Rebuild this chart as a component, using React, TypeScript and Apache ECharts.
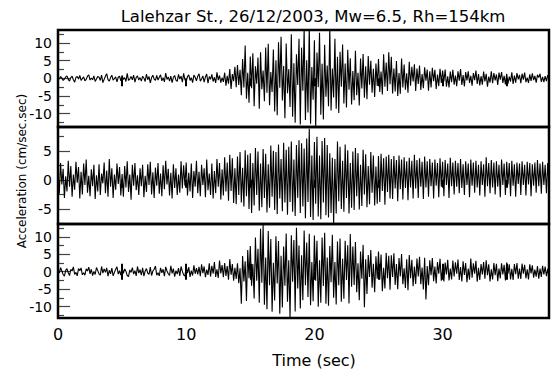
import React, { useEffect, useRef } from "react";
import * as echarts from "echarts";

const TITLE = "Lalehzar St., 26/12/2003, Mw=6.5, Rh=154km";
const Y_NAME = "Acceleration (cm/sec.sec)";
const X_NAME = "Time (sec)";
const DT = 0.1;
const X_MAX = 38.3;
const X_TICKS = [5, 10, 15, 20, 25, 30, 35];
const X_LABELS = [0, 10, 20, 30];

const Y_RANGES = [
  [-13.8, 13.7],
  [-7.6, 9.1],
  [-13.3, 13.7],
];
const Y_LABELS = [
  [-10, -5, 0, 5, 10],
  [-5, 0, 5],
  [-10, -5, 0, 5, 10],
];
const Y_MINOR = [
  [-12.5, -7.5, -2.5, 2.5, 7.5, 12.5],
  [-7.5, -2.5, 2.5, 7.5],
  [-12.5, -7.5, -2.5, 2.5, 7.5, 12.5],
];

const trace1 = [
  0.3, -0.2, 0.5, 0.1, -0.6, -0.2, 0.4, 0.7, -0.3, -0.8,
  0.2, 0.6, -0.4, -1.1, 0.3, 0.5, -0.2, 0.8, -0.6, -0.1,
  0.4, -0.7, -0.3, 0.6, 1.0, -0.5, 0.1, -0.4, 0.7, -0.9,
  -0.2, 0.5, 0.3, -0.6, 0.9, -1.2, -0.3, 0.6, 1.3, -0.4,
  -0.8, 0.2, 0.9, -0.5, -0.1, 0.4, -1.0, 0.3, 0.6, -0.7,
  0.8, -0.3, 0.2, -0.9, 1.4, -0.6, -0.2, 0.5, -0.4, 0.9,
  -1.1, 0.3, 0.7, -0.5, 0.2, -0.8, 0.6, 0.1, -0.9, 1.2,
  -0.4, 0.5, -1.3, 0.2, 0.9, -0.2, -0.6, 0.8, -0.5, 0.3,
  1.0, -0.7, 0.2, -1.0, 1.5, -0.3, 0.4, -0.8, 0.6, -1.2,
  0.3, 0.8, -0.5, -0.9, 1.1, -0.2, 0.6, -1.1, 1.4, -0.4,
  -0.9, 0.5, 1.0, -0.6, 0.2, -1.2, 0.9, 0.3, -0.7, 0.6,
  1.3, -0.8, -0.2, 0.7, -1.1, 0.4, 1.2, -1.4, 0.5, -0.3,
  1.1, -0.9, 0.3, -1.3, 1.7, -0.5, 0.8, -1.2, 0.2, -1.0,
  1.6, -2.1, 0.7, -1.5, 2.6, -3.0, 1.2, -0.8, 3.3, -2.5,
  3.8, -1.9, 2.4, -4.8, 5.5, -2.6, 9.3, -5.8, 1.6, -6.9,
  6.2, -2.8, 7.1, -7.9, 3.4, -1.5, 5.9, -8.6, 7.4, -3.1,
  2.2, -6.5, 8.7, -4.1, 9.8, -7.6, 1.8, -3.9, 8.2, -9.4,
  5.1, -10.5, 10.2, -2.7, 11.8, -6.3, 3.5, -11.3, 9.9, -4.2,
  2.6, -8.1, 12.5, -10.9, 4.3, -12.6, 6.8, -1.9, 11.2, -13.1,
  8.7, -3.5, 14.2, -11.8, 5.1, -9.7, 14.8, -12.9, 3.2, -6.1,
  10.8, -14.0, 7.3, -2.5, 12.9, -10.3, 4.1, -11.7, 9.5, -5.2,
  3.6, -7.9, 14.3, -9.1, 2.8, -5.4, 11.2, -8.6, 6.1, -9.8,
  7.5, -2.4, 9.6, -7.1, 4.2, -8.3, 8.1, -3.2, 5.7, -7.4,
  2.1, -6.2, 7.8, -4.8, 1.6, -7.7, 5.6, -2.9, 6.9, -5.5,
  3.4, -5.9, 6.3, -1.8, 5.0, -4.1, 2.7, -5.3, 4.2, -2.2,
  5.5, -3.9, 1.9, -4.6, 6.8, -2.4, 4.5, -3.6, 7.4, -1.7,
  6.1, -4.3, 2.8, -3.7, 4.9, -5.0, 1.5, -4.4, 5.6, -2.6,
  3.9, -3.2, 1.4, -4.1, 4.7, -2.1, 3.3, -0.9, 4.0, -3.6,
  2.8, -1.6, 3.6, -3.3, 1.2, -2.8, 3.1, -0.7, 2.5, -3.5,
  2.0, -2.6, 3.0, -0.8, 2.4, -3.0, 1.1, -2.2, 2.7, -1.3,
  2.2, -0.9, 2.5, -2.4, 0.6, -2.6, 1.9, -1.1, 2.4, -1.8,
  0.8, -2.2, 2.0, -0.7, 2.6, -1.9, 0.9, -2.3, 1.8, -0.6,
  2.0, -1.3, 0.7, -2.1, 1.5, -0.5, 2.2, -1.6, 1.2, -2.0,
  0.6, -1.8, 1.9, -0.9, 1.3, -2.4, 0.5, -1.2, 2.0, -1.4,
  1.5, -0.6, 1.1, -1.9, 1.6, -0.4, 1.8, -1.3, 0.7, -1.7,
  1.3, -1.5, 0.5, -0.9, 1.7, -1.6, 0.8, -1.2, 1.5, -0.3,
  1.0, -1.4, 1.3, -0.4, 1.6, -1.1, 0.2, -1.3, 1.1, -0.7,
  1.4, -0.5, 0.7, -1.2, 1.0, 0.2, 1.3, -1.0, 0.4, -1.1,
  0.6, -0.8, 0.9, -0.3,
];

const trace2 = [
  1.5, -2.4, 2.9, -0.8, 1.9, -3.1, 0.6, -2.0, 3.3, -1.2,
  2.4, -2.9, 0.9, -1.7, 3.1, -0.5, 2.2, -3.2, 1.4, -2.5,
  2.8, -0.9, 3.5, -2.2, 0.7, -2.8, 1.8, -1.1, 2.6, -3.3,
  0.8, -2.0, 2.7, -2.6, 1.1, -0.6, 3.0, -2.3, 1.6, -2.9,
  3.6, -1.2, 2.0, -3.1, 0.9, -1.7, 2.8, -0.7, 2.2, -2.7,
  1.0, -2.9, 2.4, -1.3, 3.2, -2.1, 0.9, -3.4, 2.6, -1.0,
  2.9, -1.8, 0.8, -2.6, 2.0, -1.1, 2.6, -3.0, 0.7, -2.1,
  2.7, -0.9, 3.1, -2.5, 1.3, -3.1, 2.1, -1.0, 2.9, -2.4,
  1.1, -2.8, 2.5, -1.6, 3.3, -0.8, 1.9, -2.7, 1.2, -3.2,
  2.7, -1.4, 2.0, -2.6, 0.9, -2.2, 3.2, -1.5, 2.5, -1.0,
  3.0, -2.7, 1.2, -2.0, 2.8, -3.1, 1.5, -1.2, 3.3, -2.3,
  1.4, -2.8, 2.6, -0.9, 2.0, -3.0, 3.5, -1.8, 1.1, -2.6,
  2.8, -3.2, 1.5, -2.3, 3.6, -1.2, 2.9, -3.4, 1.8, -2.7,
  3.9, -2.0, 3.0, -3.6, 4.3, -1.9, 3.7, -4.0, 2.0, -4.2,
  4.0, -2.6, 4.8, -3.9, 2.1, -4.6, 5.1, -2.8, 4.3, -5.0,
  4.6, -5.7, 2.9, -4.4, 5.5, -2.6, 4.9, -5.3, 2.8, -4.7,
  5.3, -3.1, 4.5, -5.6, 2.7, -4.8, 5.9, -2.9, 5.0, -5.2,
  4.8, -5.9, 6.1, -3.2, 3.6, -5.4, 6.4, -3.9, 5.2, -6.0,
  5.7, -3.8, 6.6, -5.5, 3.5, -6.2, 6.0, -3.1, 6.8, -5.7,
  6.3, -4.6, 5.4, -6.6, 7.1, -3.8, 8.8, -6.4, 4.2, -6.9,
  6.5, -4.1, 7.4, -6.3, 4.2, -6.8, 6.7, -3.9, 7.2, -6.1,
  6.0, -6.5, 4.6, -5.7, 3.8, -7.5, 3.6, -5.8, 6.6, -3.7,
  5.7, -5.0, 3.3, -5.5, 6.1, -3.1, 5.1, -5.8, 2.9, -4.8,
  4.9, -5.2, 5.5, -2.8, 4.6, -5.1, 2.6, -4.5, 5.2, -2.5,
  4.4, -4.7, 2.4, -4.2, 4.8, -2.2, 4.2, -4.4, 2.3, -4.1,
  4.1, -3.8, 4.5, -1.9, 3.7, -4.3, 4.0, -2.1, 4.3, -3.2,
  3.6, -3.3, 4.1, -1.5, 3.4, -3.7, 4.2, -1.6, 3.5, -3.4,
  3.9, -1.4, 3.2, -3.5, 3.8, -1.3, 3.3, -3.2, 4.3, -1.5,
  3.4, -3.1, 3.7, -1.2, 3.1, -3.3, 4.0, -1.3, 3.2, -2.9,
  3.6, -1.1, 3.0, -3.2, 3.5, -1.0, 2.9, -3.0, 3.7, -1.2,
  3.1, -2.8, 3.4, -0.9, 2.8, -3.1, 3.8, -1.1, 3.0, -2.5,
  3.3, -1.2, 2.9, -2.3, 3.6, -1.4, 2.7, -2.6, 3.2, -0.9,
  2.8, -3.0, 3.5, -1.0, 3.0, -2.2, 3.3, -1.3, 2.6, -2.7,
  3.2, -0.9, 2.7, -2.9, 3.9, -1.1, 2.9, -2.3, 3.4, -1.3,
  3.0, -2.5, 3.2, -1.2, 2.6, -3.0, 3.5, -0.9, 2.8, -2.6,
  3.1, -0.8, 2.9, -2.8, 3.3, -1.0, 2.7, -2.9, 3.0, -0.7,
  2.8, -2.6, 3.2, -0.9, 2.6, -2.7, 3.1, -0.8, 2.9, -2.8,
  2.7, -1.0, 3.0, -2.2, 3.4, -1.1, 2.8, -2.4, 3.1, -0.9,
  2.6, -2.3, 2.9, -1.0,
];

const trace3 = [
  0.6, -0.4, 1.2, 0.2, -0.8, -1.3, 0.4, 0.9, -0.3, -1.1,
  0.7, 0.2, 1.4, -0.8, -0.2, -1.2, 0.9, 0.3, 1.1, -0.9,
  -0.3, -1.0, 0.8, 0.2, 1.3, -0.6, 0.7, -1.1, 0.1, -0.8,
  1.2, 0.3, -0.6, -1.0, 1.5, -0.4, 0.8, -0.2, 1.1, -1.3,
  0.4, -0.6, 1.0, -1.2, -0.2, 0.7, 1.4, -0.7, 0.3, -1.0,
  1.3, -0.5, 0.8, 0.1, -1.1, -1.4, 0.5, -0.2, 1.2, -0.7,
  0.3, -1.2, 1.5, -0.4, 0.6, -1.0, 1.1, -1.3, 0.2, 0.9,
  -0.4, -0.8, 1.3, -1.1, 0.2, 0.7, 1.6, -1.0, -0.3, -1.2,
  1.1, -0.3, 0.7, -1.3, 1.4, 0.2, -0.6, -1.1, 1.7, -0.5,
  0.9, -1.4, 0.3, -0.7, 1.0, -1.2, 1.5, 0.1, -0.9, -1.3,
  1.6, -0.4, 1.3, -1.5, 0.3, -1.1, 1.8, -0.6, 1.0, -0.8,
  1.4, -1.3, 2.1, -0.4, 1.5, -1.6, 0.6, -0.9, 2.4, -1.4,
  1.7, -0.6, 2.8, -1.5, 0.7, -1.8, 3.2, -0.5, 1.9, -1.6,
  2.5, -1.2, 1.6, -2.3, 3.6, -0.9, 2.2, -2.6, 1.1, -2.1,
  2.4, -3.3, 1.0, -9.2, 4.5, -2.8, 3.0, -8.4, 6.2, -1.9,
  7.4, -4.0, 2.2, -7.7, 9.8, -2.6, 6.6, -8.9, 12.3, -3.2,
  13.4, -9.5, 4.1, -10.8, 11.7, -3.9, 9.4, -11.5, 2.6, -8.3,
  10.2, -3.4, 8.8, -12.1, 4.6, -10.3, 7.2, -4.0, 11.0, -8.6,
  3.3, -13.2, 10.5, -2.9, 9.1, -11.4, 12.6, -4.8, 7.5, -10.6,
  4.7, -8.2, 11.8, -3.9, 8.4, -7.3, 10.9, -9.6, 2.8, -8.5,
  10.4, -2.6, 8.9, -10.1, 3.3, -8.9, 9.8, -4.1, 11.2, -9.2,
  4.1, -9.8, 7.4, -3.0, 10.6, -7.5, 2.8, -9.4, 8.7, -3.9,
  9.5, -8.6, 3.7, -7.8, 8.9, -2.4, 7.6, -9.1, 10.8, -4.3,
  7.2, -3.8, 8.5, -5.9, 2.4, -8.2, 5.8, -2.0, 7.7, -10.2,
  3.6, -6.4, 4.8, -1.5, 6.2, -4.6, 2.3, -5.9, 4.4, -2.0,
  5.8, -2.2, 4.9, -5.6, 1.1, -4.8, 5.4, -1.9, 4.6, -5.2,
  4.7, -1.5, 5.3, -3.8, 2.2, -5.0, 3.9, -1.4, 5.1, -3.6,
  1.0, -4.7, 3.6, -5.3, 4.8, -1.9, 3.4, -4.2, 1.5, -3.5,
  3.8, -1.4, 4.3, -3.6, 1.2, -5.1, 4.0, -8.0, 1.6, -3.9,
  3.3, -1.0, 3.9, -2.7, 1.5, -3.4, 2.8, -0.6, 3.7, -2.6,
  1.0, -2.8, 2.6, -0.8, 3.4, -2.5, 0.9, -2.2, 3.2, -1.4,
  2.7, -0.6, 3.5, -2.4, 1.3, -2.8, 3.0, -0.9, 2.5, -3.0,
  0.9, -2.3, 3.8, -1.7, 2.4, -0.6, 3.1, -2.9, 1.1, -2.4,
  2.2, -0.8, 2.8, -2.0, 3.3, -1.0, 2.1, -2.8, 0.7, -2.2,
  2.5, -1.0, 2.3, -2.7, 0.9, -1.9, 2.4, -0.8, 2.0, -2.5,
  2.6, -0.6, 2.1, -2.2, 0.8, -2.4, 2.2, -0.7, 2.5, -2.0,
  0.9, -2.1, 2.3, -0.6, 2.0, -1.9, 0.7, -2.2, 2.1, -0.5,
  1.8, -1.7, 0.6, -1.4, 1.6, -2.0, 0.9, -1.5, 1.7, -0.8,
  1.5, -1.3, 0.8, -1.6,
];

const TRACES = [trace1, trace2, trace3];

const FONT = "DejaVu Sans";
const GRID_LEFT = 58;
const GRID_WIDTH = 491;
const GRID_TOPS = [30, 127, 224];
const GRID_HEIGHTS = [97, 97, 94];

function toPairs(arr: number[]) {
  return arr.map((v, i) => [Math.round(i * DT * 100) / 100, v]);
}

function buildOption() {
  const grid = GRID_TOPS.map((top, i) => ({
    left: GRID_LEFT,
    top,
    width: GRID_WIDTH,
    height: GRID_HEIGHTS[i],
    show: true,
    borderColor: "#000",
    borderWidth: 2.5,
    backgroundColor: "transparent",
    z: 10,
  }));

  const xAxis: any[] = GRID_TOPS.map((_, i) => ({
    gridIndex: i,
    type: "value",
    min: 0,
    max: X_MAX,
    position: "top",
    axisLine: { show: false },
    axisTick: {
      show: true,
      inside: true,
      length: 8,
      customValues: X_TICKS,
      lineStyle: { color: "#000", width: 2 },
    },
    axisLabel: { show: false },
    splitLine: { show: false },
  }));
  xAxis.push({
    gridIndex: 2,
    type: "value",
    min: 0,
    max: X_MAX,
    position: "bottom",
    axisLine: { show: false },
    axisTick: {
      show: true,
      inside: true,
      length: 8,
      customValues: X_TICKS,
      lineStyle: { color: "#000", width: 2 },
    },
    axisLabel: {
      show: true,
      customValues: X_LABELS,
      margin: 8,
      fontSize: 16,
      fontFamily: FONT,
      color: "#000",
    },
    splitLine: { show: false },
  });

  const yAxis: any[] = [];
  GRID_TOPS.forEach((_, i) => {
    const [min, max] = Y_RANGES[i];
    yAxis.push({
      gridIndex: i,
      type: "value",
      min,
      max,
      position: "left",
      axisLine: { show: false },
      axisTick: {
        show: true,
        inside: true,
        length: 12,
        customValues: Y_LABELS[i],
        lineStyle: { color: "#444", width: 1.2 },
      },
      axisLabel: {
        show: true,
        customValues: Y_LABELS[i],
        margin: 6,
        fontSize: 14,
        fontFamily: FONT,
        color: "#000",
      },
      splitLine: { show: false },
    });
    yAxis.push({
      gridIndex: i,
      type: "value",
      min,
      max,
      position: "left",
      axisLine: { show: false },
      axisTick: {
        show: true,
        inside: true,
        length: 6,
        customValues: Y_MINOR[i],
        lineStyle: { color: "#444", width: 1.2 },
      },
      axisLabel: { show: false },
      splitLine: { show: false },
    });
  });

  const series = TRACES.map((tr, i) => ({
    type: "line",
    xAxisIndex: i,
    yAxisIndex: i * 2,
    data: toPairs(tr),
    showSymbol: false,
    symbol: "none",
    clip: true,
    lineStyle: { color: "#000", width: 1.1 },
    z: 2,
  }));

  return {
    animation: false,
    backgroundColor: "#fff",
    grid,
    xAxis,
    yAxis,
    series,
    graphic: [
      {
        type: "text",
        x: 313,
        y: 16,
        style: {
          text: TITLE,
          align: "center",
          verticalAlign: "middle",
          fontSize: 16.5,
          fontFamily: FONT,
          fill: "#000",
        },
      },
      {
        type: "text",
        x: 22,
        y: 171,
        rotation: Math.PI / 2,
        style: {
          text: Y_NAME,
          align: "center",
          verticalAlign: "middle",
          fontSize: 12,
          fontFamily: FONT,
          fill: "#000",
        },
      },
      {
        type: "text",
        x: 314,
        y: 360,
        style: {
          text: X_NAME,
          align: "center",
          verticalAlign: "middle",
          fontSize: 16,
          fontFamily: FONT,
          fill: "#000",
        },
      },
    ],
  };
}

export default function App() {
  const ref = useRef<HTMLDivElement>(null);
  useEffect(() => {
    document.body.style.margin = "0";
    if (!ref.current) return;
    const chart = echarts.init(ref.current, null, { renderer: "svg" });
    chart.setOption(buildOption() as any);
    return () => chart.dispose();
  }, []);
  return <div ref={ref} style={{ width: 553, height: 380 }} />;
}
